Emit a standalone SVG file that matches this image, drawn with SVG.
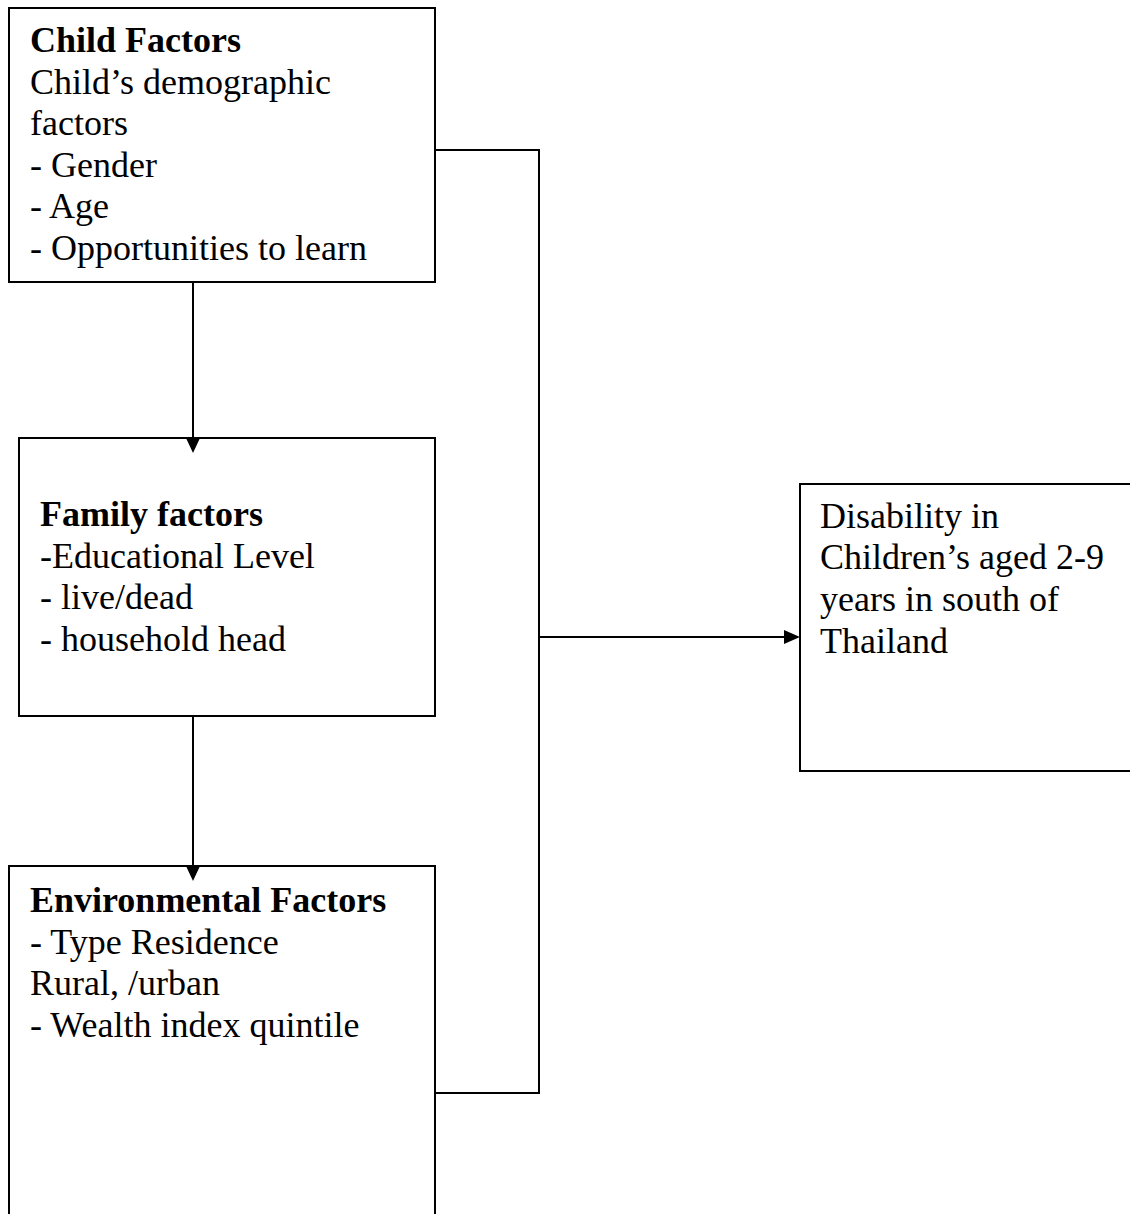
<svg xmlns="http://www.w3.org/2000/svg" width="1130" height="1214" viewBox="0 0 1130 1214">
<style>
.box{fill:#fff;stroke:#000;stroke-width:2}
.ln{fill:none;stroke:#000;stroke-width:2}
text{font-family:"Liberation Serif","Times New Roman",serif;font-size:36px;fill:#000}
.b{font-weight:bold}
</style>
<rect width="1130" height="1214" fill="#fff"/>
<g id="connectors">
<polyline class="ln" points="435,150 539,150 539,1093 435,1093"/>
<line class="ln" x1="539" y1="637" x2="786" y2="637"/>
<line class="ln" x1="193" y1="282" x2="193" y2="440"/>
<line class="ln" x1="193" y1="716" x2="193" y2="868"/>
</g>
<g id="child">
<rect class="box" x="9" y="8" width="426" height="274"/>
<text x="30" y="52" class="b">Child Factors</text>
<text x="30" y="94">Child’s demographic</text>
<text x="30" y="135">factors</text>
<text x="30" y="177">- Gender</text>
<text x="30" y="218">- Age</text>
<text x="30" y="260">- Opportunities to learn</text>
</g>
<g id="family">
<rect class="box" x="19" y="438" width="416" height="278"/>
<text x="40" y="526" class="b">Family factors</text>
<text x="40" y="568">-Educational Level</text>
<text x="40" y="609">- live/dead</text>
<text x="40" y="651">- household head</text>
</g>
<g id="environment">
<rect class="box" x="9" y="866" width="426" height="360"/>
<text x="30" y="912" class="b">Environmental Factors</text>
<text x="30" y="954">- Type Residence</text>
<text x="30" y="995">Rural, /urban</text>
<text x="30" y="1037">- Wealth index quintile</text>
</g>
<g id="disability">
<rect class="box" x="800" y="484" width="340" height="287"/>
<text x="820" y="528">Disability in</text>
<text x="820" y="569">Children’s aged 2-9</text>
<text x="820" y="611">years in south of</text>
<text x="820" y="653">Thailand</text>
</g>
<g id="arrowheads">
<polygon points="186,438 200,438 193,453"/>
<polygon points="186,866 200,866 193,881"/>
<polygon points="784,630 784,644 800,637"/>
</g>
</svg>
